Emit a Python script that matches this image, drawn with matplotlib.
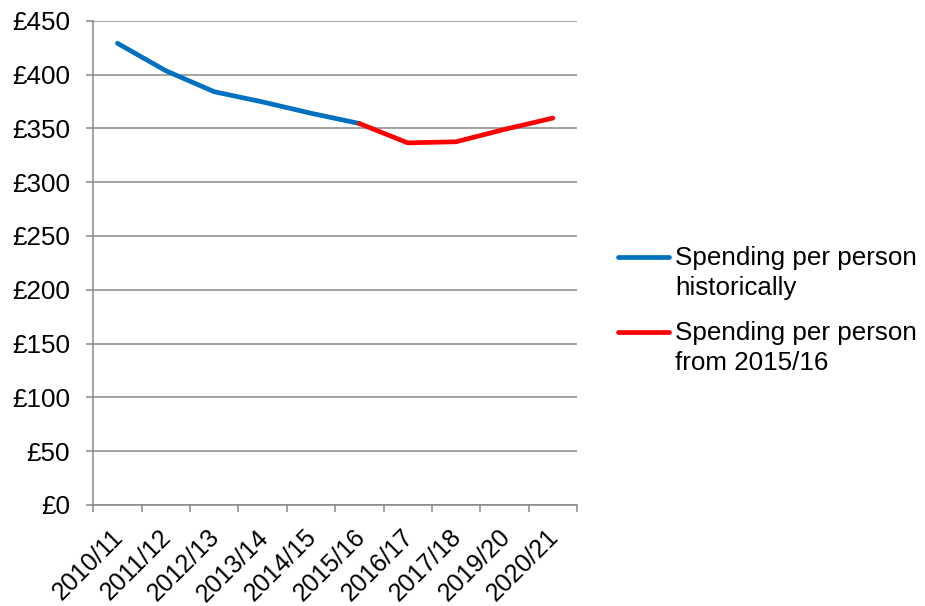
import matplotlib
matplotlib.use("Agg")
import matplotlib.pyplot as plt
import matplotlib.transforms as mtransforms
from matplotlib.lines import Line2D

plt.rcParams['font.family'] = ['Liberation Sans', 'DejaVu Sans']

categories = ["2010/11", "2011/12", "2012/13", "2013/14", "2014/15",
              "2015/16", "2016/17", "2017/18", "2019/20", "2020/21"]
historic = [429, 403.5, 384, 374.5, 364, 354.5, None, None, None, None]
projected = [None, None, None, None, None, 354.5, 336.5, 337.5, 349, 359.5]
series_names = ["Spending per person\nhistorically",
                "Spending per person\nfrom 2015/16"]
colors = ["#0070C0", "#FF0000"]
yticks = list(range(0, 451, 50))

W, H = 925, 606
FS = 18.7
XFS = 18.0
GRID = "#898989"

fig = plt.figure(figsize=(W / 100, H / 100), dpi=100)
ax = fig.add_axes([93.3 / W, 1 - 505 / H, (577 - 93.3) / W, (505 - 20.7) / H])

x = list(range(len(categories)))

def seg(vals):
    xs = [i for i, v in zip(x, vals) if v is not None]
    ys = [v for v in vals if v is not None]
    return xs, ys

for vals, c in zip([historic, projected], colors):
    xs, ys = seg(vals)
    ax.plot(xs, ys, color=c, lw=3.4, solid_capstyle='round',
            solid_joinstyle='round', zorder=3)

ax.set_xlim(-0.5, len(categories) - 0.5)
ax.set_ylim(0, 450)
ax.set_yticks(yticks)
ax.set_yticklabels([f"£{v}" for v in yticks], fontsize=FS)
ax.yaxis.grid(True, color=GRID, lw=1.1)
ax.set_axisbelow(True)

ax.set_xticks([i + 0.5 for i in range(-1, len(categories))], minor=False)
ax.set_xticklabels([])
ax.set_xticks(x, minor=True)
ax.set_xticklabels(categories, minor=True, rotation=45, ha='right',
                   va='center', rotation_mode='anchor', fontsize=XFS)
ax.tick_params(axis='x', which='minor', length=0, pad=20.5)
ax.tick_params(axis='x', which='major', length=5.3, color=GRID, width=1.1)
ax.tick_params(axis='y', length=5.3, color=GRID, width=1.1, pad=11.5)

offset = mtransforms.ScaledTranslation(2 / 100, 0, fig.dpi_scale_trans)
for lab in ax.get_xticklabels(minor=True):
    lab.set_transform(lab.get_transform() + offset)

for s in ['top', 'right']:
    ax.spines[s].set_visible(False)
for s in ['left', 'bottom']:
    ax.spines[s].set_color(GRID)
    ax.spines[s].set_linewidth(1.1)

# legend (manual, handle aligned with first text line)
handle_y = [256.7, 331.7]
for name, c, hy in zip(series_names, colors, handle_y):
    fig.add_artist(Line2D([618 / W, 669 / W], [1 - hy / H, 1 - hy / H],
                          color=c, lw=3.4, solid_capstyle='round',
                          transform=fig.transFigure))
    for k, line in enumerate(name.split("\n")):
        base = hy + 8.3 + 30 * k
        fig.text(675 / W, 1 - base / H, line, fontsize=FS, ha='left',
                 va='baseline', transform=fig.transFigure)

fig.savefig("out.png", dpi=100)
